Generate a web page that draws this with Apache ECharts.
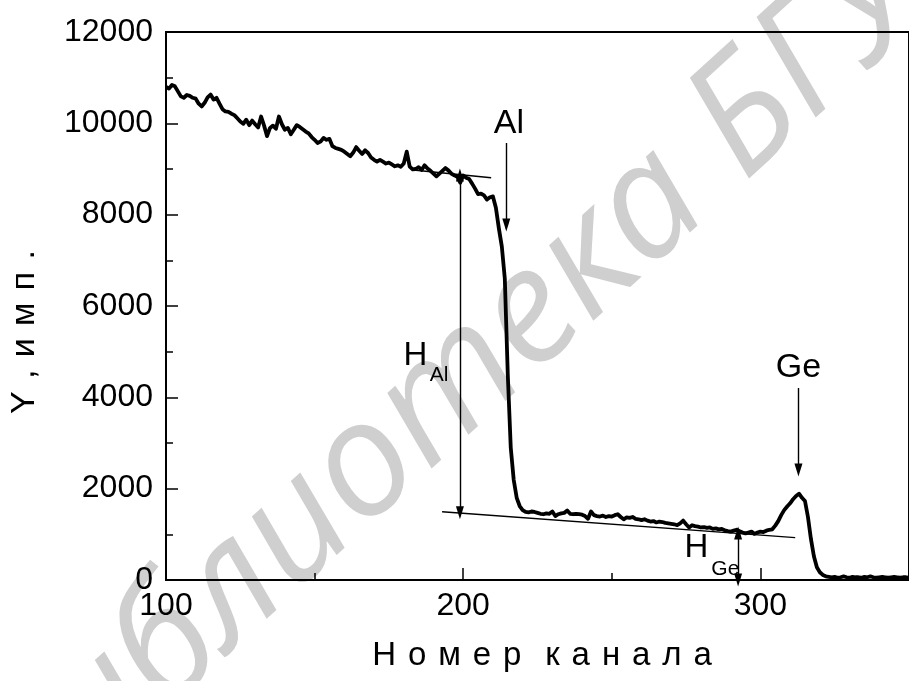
<!DOCTYPE html>
<html>
<head>
<meta charset="utf-8">
<script src="https://cdn.jsdelivr.net/npm/echarts@6/dist/echarts.min.js"></script>
<style>
  html, body { margin: 0; padding: 0; background: #fff; }
  #chart { width: 909px; height: 681px; }
</style>
</head>
<body>
<div id="chart"></div>
<script>
// RBS spectrum: counts per channel, channels 100..350
const channelStart = 100;
const counts = [
  10800, 10760, 10840, 10810, 10700, 10590, 10560, 10620, 10600, 10560, // 100-109
  10540, 10430, 10370, 10450, 10570, 10630, 10520, 10560, 10430, 10310, // 110-119
  10260, 10250, 10210, 10180, 10110, 10040, 9990, 10080, 9960, 10060,    // 120-129
  9980, 9910, 10150, 9950, 9720, 9900, 9950, 9880, 10150, 9980,          // 130-139
  9860, 9900, 9760, 9860, 9960, 9920, 9870, 9820, 9780, 9700,            // 140-149
  9640, 9570, 9600, 9680, 9640, 9660, 9500, 9460, 9440, 9420,            // 150-159
  9380, 9330, 9280, 9360, 9480, 9400, 9330, 9410, 9350, 9250,            // 160-169
  9200, 9160, 9200, 9160, 9120, 9140, 9100, 9060, 9080, 9050,            // 170-179
  9120, 9380, 9050, 8990, 9000, 9040, 8980, 9080, 9010, 8960,            // 180-189
  8900, 8840, 8900, 8960, 9020, 8970, 8900, 8860, 8830, 8700,            // 190-199
  8860, 8810, 8780, 8680, 8570, 8450, 8460, 8420, 8330, 8380,            // 200-209
  8400, 8150, 7700, 7300, 6600, 4500, 2900, 2190, 1800, 1620,            // 210-219
  1530, 1490, 1480, 1500, 1490, 1470, 1450, 1440, 1460, 1450,            // 220-229
  1500, 1400, 1440, 1460, 1470, 1520, 1450, 1440, 1450, 1440,            // 230-239
  1430, 1400, 1340, 1500, 1420, 1400, 1390, 1410, 1380, 1400,            // 240-249
  1390, 1420, 1440, 1380, 1330, 1370, 1360, 1380, 1340, 1330,            // 250-259
  1310, 1330, 1300, 1280, 1290, 1260, 1280, 1270, 1250, 1240,            // 260-269
  1230, 1220, 1200, 1240, 1300, 1220, 1150, 1200, 1180, 1170,            // 270-279
  1150, 1160, 1140, 1150, 1120, 1130, 1110, 1120, 1090, 1070,            // 280-289
  1060, 1080, 1100, 1070, 1040, 1020, 1040, 1060, 1010, 1040,            // 290-299
  1060, 1050, 1080, 1100, 1110, 1190, 1290, 1420, 1530, 1610,            // 300-309
  1680, 1770, 1840, 1890, 1800, 1730, 1380, 900, 520, 280,               // 310-319
  170, 110, 80, 70, 60, 70, 50, 60, 80, 60,                              // 320-329
  50, 70, 60, 60, 50, 70, 60, 80, 60, 50,                                // 330-339
  60, 70, 60, 50, 60, 70, 60, 50, 60, 60, 50                             // 340-350
];

// Axis ranges
const xRange = [100, 350];
const yRange = [0, 12000];

// Background baselines under the Al step and the Ge peak
const alBaseline = [[183.2, 8978], [209.4, 8809]];
const geBaseline = [[192.9, 1496], [311.7, 927]];

// Step / peak heights (channel, from, to)
const hAl = [198.9, 1470, 8870];
const hGe = [292.5, 0, 1030];

// Element markers (channel, arrow top, arrow tip)
const alMarker = [214.5, 9569, 7773];
const geMarker = [312.8, 4204, 2409];

const FONT = "'Liberation Sans', Arial, sans-serif";
const WM_FONT = "'Open Sans', 'Noto Sans', 'DejaVu Sans', sans-serif";

// letter-spaced titles
const GAP = ' \u200A';
const spaced = words => words.map(w => Array.from(w).join(GAP)).join(GAP + ' \u200A');

const seriesData = counts.map((v, i) => [channelStart + i, v]);

const arrowHead = { symbol: 'triangle', symbolSize: [8, 13] };
const noHead = { symbol: 'none' };

const textPoint = (name, coord, size) => ({
  name, coord, symbolSize: 0,
  label: { show: true, position: 'inside', formatter: name, fontSize: size, color: '#000', fontFamily: FONT }
});

const chart = echarts.init(document.getElementById('chart'), null, { renderer: 'canvas' });

chart.setOption({
  animation: false,
  backgroundColor: '#fff',
  grid: {
    left: 166, top: 32, width: 751, height: 548,
    show: true, borderColor: '#000', borderWidth: 2, backgroundColor: 'transparent'
  },
  xAxis: {
    type: 'value', min: xRange[0], max: xRange[1], interval: 100,
    axisLine: { show: true, lineStyle: { color: '#000', width: 2 } },
    axisTick: { show: true, inside: true, length: 12, lineStyle: { color: '#000', width: 1.5 } },
    minorTick: { show: true, splitNumber: 2, length: 7, lineStyle: { color: '#000', width: 1.5 } },
    splitLine: { show: false },
    axisLabel: { showMaxLabel: false, margin: 10, fontSize: 32, color: '#000', fontFamily: FONT, formatter: v => String(v) }
  },
  yAxis: {
    type: 'value', min: yRange[0], max: yRange[1], interval: 2000,
    axisLine: { show: true, lineStyle: { color: '#000', width: 2 } },
    axisTick: { show: true, inside: true, length: 12, lineStyle: { color: '#000', width: 1.5 } },
    minorTick: { show: true, splitNumber: 2, length: 7, lineStyle: { color: '#000', width: 1.5 } },
    splitLine: { show: false },
    axisLabel: { margin: 13, fontSize: 32, color: '#000', fontFamily: FONT, formatter: v => String(v) }
  },
  graphic: [
    {
      type: 'text', z: -10, silent: true,
      x: 452, y: 388, rotation: 0.74,
      style: {
        text: 'Библиотека БГУ', fontSize: 160, fontStyle: 'italic', fontFamily: WM_FONT,
        fill: '#cfcfcf', align: 'center', verticalAlign: 'middle'
      }
    },
    {
      type: 'text', x: 542, y: 656,
      style: { text: spaced(['Номер', 'канала']), fontSize: 33, fontFamily: FONT, fill: '#000', align: 'center', verticalAlign: 'middle' }
    },
    {
      type: 'text', x: 25, y: 332, rotation: Math.PI / 2,
      style: { text: spaced(['Y', ',', 'имп.']).replace(/ \u200A \u200A/g, GAP), fontSize: 34, fontFamily: FONT, fill: '#000', align: 'center', verticalAlign: 'middle' }
    }
  ],
  series: [
    {
      type: 'line', data: seriesData, showSymbol: false, smooth: false,
      lineStyle: { color: '#000', width: 3.8, join: 'round' }, z: 5
    },
    {
      type: 'line', data: [], z: 4,
      markLine: {
        silent: true, animation: false,
        symbol: ['none', 'none'],
        label: { show: false },
        lineStyle: { color: '#000', width: 1.4, type: 'solid' },
        emphasis: { disabled: true },
        data: [
          [{ coord: alBaseline[0], ...noHead }, { coord: alBaseline[1], ...noHead }],
          [{ coord: geBaseline[0], ...noHead }, { coord: geBaseline[1], ...noHead }],
          [{ coord: [hAl[0], hAl[1]], ...arrowHead }, { coord: [hAl[0], hAl[2]], ...arrowHead }],
          [{ coord: [hGe[0], hGe[1]], ...arrowHead }, { coord: [hGe[0], hGe[2]], ...arrowHead }],
          [{ coord: [alMarker[0], alMarker[1]], ...noHead }, { coord: [alMarker[0], alMarker[2]], ...arrowHead }],
          [{ coord: [geMarker[0], geMarker[1]], ...noHead }, { coord: [geMarker[0], geMarker[2]], ...arrowHead }]
        ]
      },
      markPoint: {
        silent: true, animation: false,
        symbol: 'circle', symbolSize: 0,
        data: [
          textPoint('Al', [215.4, 9996], 34),
          textPoint('Ge', [312.8, 4642], 34),
          textPoint('H', [183.9, 4905], 33),
          textPoint('Al', [191.9, 4489], 21),
          textPoint('H', [278.5, 712], 33),
          textPoint('Ge', [288.2, 241], 21)
        ]
      }
    }
  ]
});
</script>
</body>
</html>
